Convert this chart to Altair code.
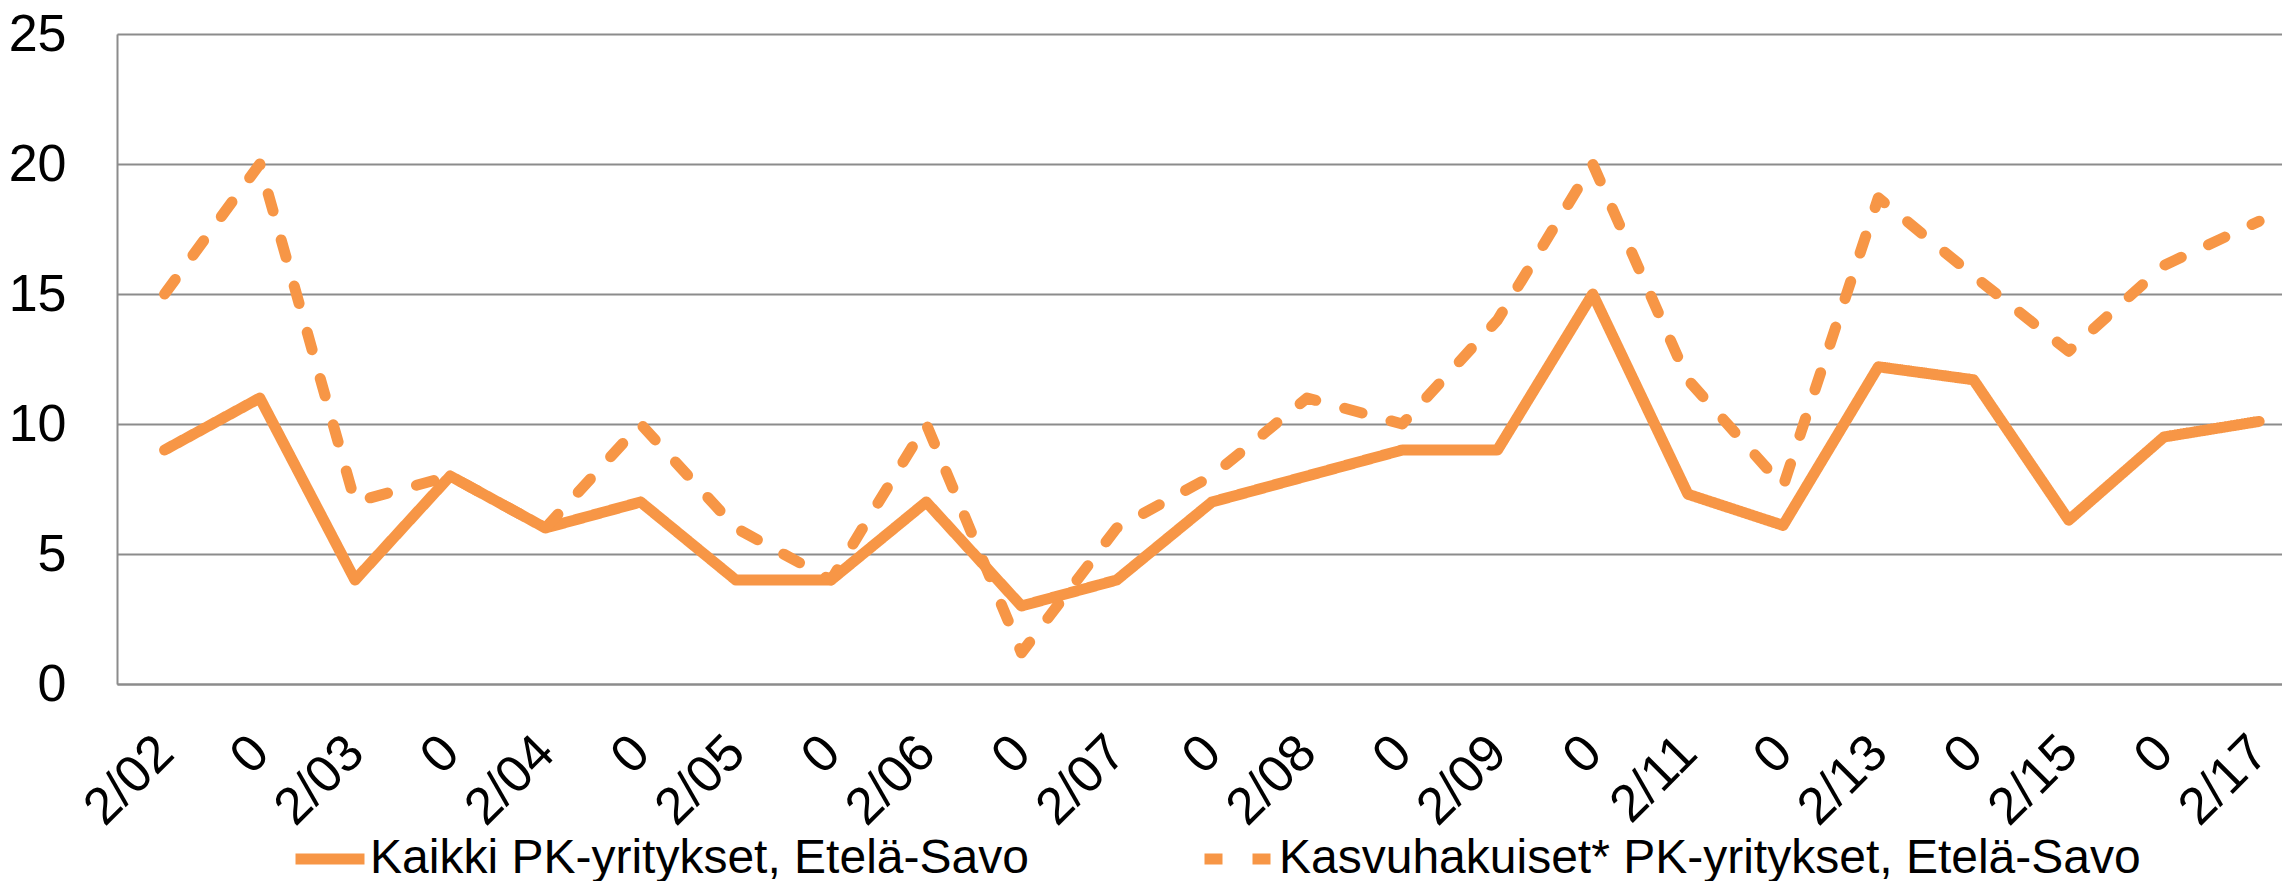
import altair as alt
import pandas as pd

labels = ["2/02", "0", "2/03", "0", "2/04", "0", "2/05", "0", "2/06", "0", "2/07", "0",
          "2/08", "0", "2/09", "0", "2/11", "0", "2/13", "0", "2/15", "0", "2/17"]
kaikki = [9, 11, 4, 8, 6, 7, 4, 4, 7, 3, 4, 7, 8, 9, 9, 15, 7.3, 6.1, 12.2, 11.7, 6.3, 9.5, 10.1]
kasvu = [15, 20, 7, 8, 6, 10, 6, 4, 10, 1.2, 6, 8, 11, 10, 14, 20, 11.7, 7.6, 18.7, 15.7, 12.8, 16.1, 17.8]
series_names = ["Kaikki PK-yritykset, Etelä-Savo", "Kasvuhakuiset* PK-yritykset, Etelä-Savo"]
y_ticks = [0, 5, 10, 15, 20, 25]

rows = []
for name, vals in zip(series_names, [kaikki, kasvu]):
    for i, v in enumerate(vals):
        rows.append({"i": i, "value": v, "series": name})
df = pd.DataFrame(rows)

label_expr = "[" + ",".join("'" + l + "'" for l in labels) + "][round(datum.value)]"

ORANGE = "#F79646"
GRID = "#8c8c8c"
FONT = "Liberation Sans"

legend_props = dict(
    orient="none", legendX=173, legendY=785, direction="horizontal", title=None,
    labelFontSize=48, labelFont=FONT, labelColor="black", labelLimit=2000,
    symbolType="stroke", symbolSize=4761, symbolStrokeWidth=11, labelOffset=0,
    columnPadding=153, padding=0,
)

chart = alt.Chart(df).mark_line(
    strokeWidth=11, strokeCap="round", strokeJoin="round"
).encode(
    x=alt.X("i:Q",
            scale=alt.Scale(domain=[-0.5, 22.24], nice=False, zero=False),
            axis=alt.Axis(values=list(range(len(labels))), labelExpr=label_expr,
                          labelAngle=315, labelAlign="right", labelBaseline="middle",
                          labelPadding=60, ticks=False, tickSize=0, grid=False,
                          labelOverlap=False, labelFlush=False,
                          domainColor=GRID, domainWidth=2, title=None,
                          labelFontSize=52, labelFont=FONT, labelColor="black")),
    y=alt.Y("value:Q",
            scale=alt.Scale(domain=[0, 25], nice=False),
            axis=alt.Axis(values=y_ticks, ticks=False, tickSize=0, labelPadding=51,
                          labelFontSize=52, labelFont=FONT, labelColor="black",
                          grid=True, gridColor=GRID, gridWidth=2,
                          domainColor=GRID, domainWidth=2, title=None)),
    color=alt.Color("series:N",
                    scale=alt.Scale(domain=series_names, range=[ORANGE, ORANGE]),
                    legend=alt.Legend(**legend_props)),
    strokeDash=alt.StrokeDash("series:N",
                              scale=alt.Scale(domain=series_names, range=[[1, 0], [18, 30]]),
                              legend=alt.Legend(**legend_props)),
).properties(
    width=2165, height=650,
    autosize=alt.AutoSizeParams(type="none"),
    padding={"left": 109, "top": 26, "right": 0, "bottom": 197},
).configure_view(stroke=None).configure(font=FONT)

chart.save("out.html", embed_options={"renderer": "svg", "actions": False})
